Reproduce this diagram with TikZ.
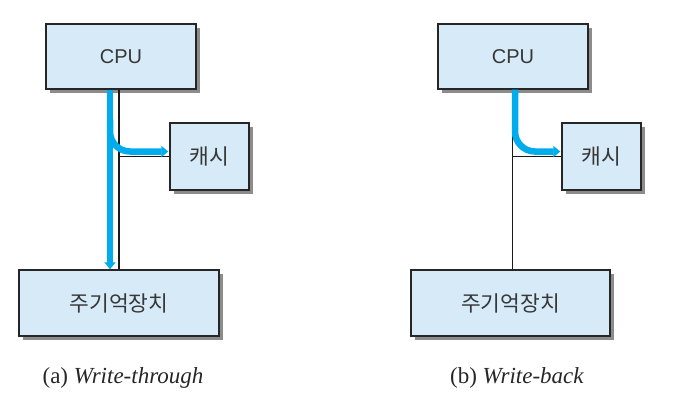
\documentclass[tikz,border=0pt]{standalone}
\usepackage{fontspec}
\setmainfont{Liberation Serif}
\newfontfamily\sansf{Liberation Sans}
\newfontfamily\krf{Noto Sans CJK KR}
\usetikzlibrary{arrows.meta,shadows}
\definecolor{boxfill}{RGB}{214,234,248}
\definecolor{flow}{RGB}{0,172,236}
\definecolor{txt}{RGB}{55,55,55}
\tikzset{
  unit/.style={draw=black!85, line width=1.4pt, fill=boxfill, text=txt,
    inner sep=0pt,
    drop shadow={shadow xshift=3.5pt, shadow yshift=-3.5pt, fill=black!45, opacity=1}},
  cpulabel/.style={font=\sansf\fontsize{20}{24}\selectfont},
  krlabel/.style={font=\krf\fontsize{21.5}{26}\selectfont},
  caption/.style={font=\fontsize{23}{27}\selectfont, text=black!85},
  bus/.style={line width=1.2pt, draw=black!90},
  flowline/.style={line width=6.5pt, draw=flow, -{Triangle[width=11pt,length=7pt]}},
}
\begin{document}
\begin{tikzpicture}[x=1pt,y=1pt]
\useasboundingbox (0,0) rectangle (673,-418);
% left panel
\node[unit, cpulabel, minimum width=150pt, minimum height=65pt] (cpuA) at (121,-56.5) {CPU};
\node[unit, krlabel, minimum width=79pt, minimum height=67pt] (cacheA) at (209.5,-156.5) {캐시};
\node[unit, krlabel, minimum width=200pt, minimum height=66pt] (memA) at (119,-303) {주기억장치};
\coordinate (bA) at (119,0);
\coordinate (fA) at (110,0);
\draw[bus] (cpuA.south -| bA) -- (memA.north -| bA);
\draw[bus] (cacheA.west -| bA) -- (cacheA.west);
\draw[flowline] (cpuA.south -| fA) -- (memA.north -| fA);
\draw[flowline, rounded corners=20pt] ([yshift=-30pt]cpuA.south -| fA) -- ([yshift=5pt]cacheA.west -| fA) -- ([yshift=5pt,xshift=-1pt]cacheA.west);
\node[caption] (capA) at (123,-378) {(a) \textit{Write-through}};
% right panel
\node[unit, cpulabel, minimum width=150pt, minimum height=65pt] (cpuB) at (513,-56.5) {CPU};
\node[unit, krlabel, minimum width=79pt, minimum height=67pt] (cacheB) at (601.5,-156.5) {캐시};
\node[unit, krlabel, minimum width=199pt, minimum height=66pt] (memB) at (510.5,-303) {주기억장치};
\coordinate (bB) at (512.5,0);
\coordinate (fB) at (515,0);
\draw[bus] (cpuB.south -| bB) -- (memB.north -| bB);
\draw[bus] (cacheB.west -| bB) -- (cacheB.west);
\draw[flowline, rounded corners=20pt] (cpuB.south -| fB) -- ([yshift=5pt]cacheB.west -| fB) -- ([yshift=5pt,xshift=-1pt]cacheB.west);
\node[caption] (capB) at (517,-378) {(b) \textit{Write-back}};
\end{tikzpicture}
\end{document}
